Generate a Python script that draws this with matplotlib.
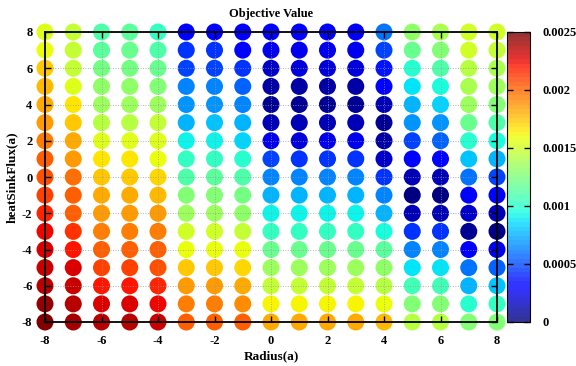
import numpy as np
import matplotlib
matplotlib.use("Agg")
import matplotlib.pyplot as plt

# Grid of design points
radius = [-8, -7, -6, -5, -4, -3, -2, -1, 0, 1, 2, 3, 4, 5, 6, 7, 8]
heat_sink_flux = [8, 7, 6, 5, 4, 3, 2, 1, 0, -1, -2, -3, -4, -5, -6, -7, -8]

# Objective value (units of 1e-4), one row per radius, ordered by heat_sink_flux
objective_e4 = [
    [15.3, 16.0, 17.3, 17.7, 18.0, 18.7, 19.4, 20.0, 20.7, 21.0, 21.8, 22.5, 22.8, 23.3, 23.8, 24.3, 24.7],
    [14.5, 14.6, 14.8, 15.3, 16.7, 17.3, 18.0, 18.7, 19.7, 20.0, 20.3, 21.3, 22.0, 22.7, 23.2, 23.8, 24.2],
    [11.3, 11.6, 12.3, 13.0, 13.3, 14.3, 15.3, 16.7, 17.5, 18.0, 18.7, 19.4, 20.0, 21.0, 22.0, 22.8, 23.8],
    [11.5, 11.8, 12.3, 13.0, 13.5, 14.3, 15.3, 16.7, 17.5, 18.0, 18.7, 19.4, 20.0, 21.0, 22.0, 22.8, 23.8],
    [10.3, 11.0, 12.0, 12.5, 13.3, 14.5, 15.3, 16.0, 16.8, 17.7, 18.4, 19.4, 20.0, 20.7, 21.8, 22.5, 23.3],
    [3.3, 4.3, 5.0, 6.3, 6.9, 7.8, 9.0, 10.3, 11.3, 12.5, 13.3, 15.0, 16.0, 17.3, 18.4, 19.4, 20.3],
    [3.3, 4.3, 5.0, 6.3, 7.0, 8.0, 9.0, 10.3, 11.5, 12.5, 13.3, 15.0, 16.0, 17.3, 18.4, 19.4, 20.3],
    [3.0, 3.3, 4.3, 5.8, 6.6, 7.5, 8.5, 10.0, 11.3, 12.3, 13.0, 14.5, 16.0, 17.0, 18.0, 19.0, 20.3],
    [3.0, 2.5, 1.8, 0.8, 0.5, 1.3, 2.5, 4.8, 6.3, 7.8, 9.0, 10.5, 12.0, 13.3, 14.8, 16.3, 18.3],
    [3.0, 2.5, 2.0, 1.0, 0.5, 1.3, 2.3, 4.5, 6.3, 7.8, 9.0, 10.5, 12.0, 13.3, 14.8, 16.3, 18.3],
    [3.0, 2.5, 2.0, 1.0, 0.5, 1.5, 2.5, 4.5, 6.3, 7.8, 9.0, 10.5, 12.0, 13.3, 14.8, 16.3, 18.3],
    [3.0, 2.5, 2.0, 0.8, 0.5, 1.3, 2.5, 4.3, 6.3, 7.8, 9.0, 10.5, 12.0, 13.3, 14.8, 16.3, 18.0],
    [6.0, 5.0, 3.8, 3.0, 1.5, 0.5, 0.8, 1.8, 4.5, 6.3, 7.8, 9.5, 11.5, 13.0, 14.3, 16.0, 17.7],
    [13.0, 11.8, 10.0, 8.8, 7.8, 6.8, 5.0, 3.3, 1.3, 0.0, 1.5, 4.5, 6.3, 8.8, 10.8, 12.5, 14.3],
    [13.8, 12.5, 11.0, 9.5, 8.3, 7.0, 5.5, 3.3, 1.5, 0.0, 1.5, 4.5, 6.5, 8.8, 10.8, 12.5, 14.3],
    [15.0, 15.0, 14.3, 13.8, 13.3, 12.0, 10.0, 8.0, 6.0, 3.3, 1.8, 0.5, 3.0, 6.0, 7.5, 10.0, 12.5],
    [15.0, 14.5, 14.0, 13.3, 12.5, 11.3, 9.5, 7.5, 5.0, 3.3, 1.3, 0.3, 2.5, 5.5, 8.0, 10.5, 12.5],
]

axis_ticks = [-8, -6, -4, -2, 0, 2, 4, 6, 8]
cbar_ticks = [0, 0.0005, 0.001, 0.0015, 0.002, 0.0025]
cbar_labels = ["0", "0.0005", "0.001", "0.0015", "0.002", "0.0025"]

plt.rcParams["font.family"] = ["Liberation Serif", "DejaVu Serif"]
plt.rcParams["font.weight"] = "bold"
plt.rcParams["axes.unicode_minus"] = False

W, H = 576, 366
fig = plt.figure(figsize=(W / 100, H / 100), dpi=100)
ax = fig.add_axes([45 / W, 1 - 322 / H, (497 - 45) / W, (322 - 32) / H])

X, Y = np.meshgrid(radius, heat_sink_flux, indexing="ij")
Z = np.array(objective_e4) * 1e-4

cmap = plt.get_cmap("jet", 64)
sc = ax.scatter(X.ravel(), Y.ravel(), c=Z.ravel(), cmap=cmap, vmin=0, vmax=0.0025,
                s=150, edgecolors="none", clip_on=False, zorder=1)

ax.set_xlim(-8, 8)
ax.set_ylim(-8, 8)
ax.set_xticks(axis_ticks)
ax.set_yticks(axis_ticks)
ax.set_axisbelow(False)
ax.grid(True, linestyle=(0, (1, 2)), color="#9a9a9a", linewidth=0.6, zorder=2)
ax.tick_params(direction="in", top=True, right=True, length=4, width=1,
               labelsize=9, pad=9)
for lbl in ax.get_xticklabels() + ax.get_yticklabels():
    lbl.set_fontweight("bold")
for sp in ax.spines.values():
    sp.set_linewidth(1.3)
    sp.set_zorder(3)

ax.set_title("Objective Value", fontsize=9, fontweight="bold", pad=11)
ax.set_xlabel("Radius(a)", fontsize=9.5, fontweight="bold", labelpad=3)
ax.set_ylabel("heatSinkFlux(a)", fontsize=9.5, fontweight="bold")
ax.yaxis.set_label_coords(-0.06, 0.5)

cax = fig.add_axes([507 / W, 1 - 322 / H, 23 / W, (322 - 32) / H])
cb = fig.colorbar(sc, cax=cax, ticks=cbar_ticks)
cb.solids.set_alpha(0.8)
cb.ax.set_yticklabels(cbar_labels)
cb.ax.tick_params(direction="in", left=True, right=True, length=4, width=1,
                  labelsize=9, pad=9)
for lbl in cb.ax.get_yticklabels():
    lbl.set_fontweight("bold")
cb.outline.set_linewidth(0.8)

fig.savefig("out.png", dpi=100)
